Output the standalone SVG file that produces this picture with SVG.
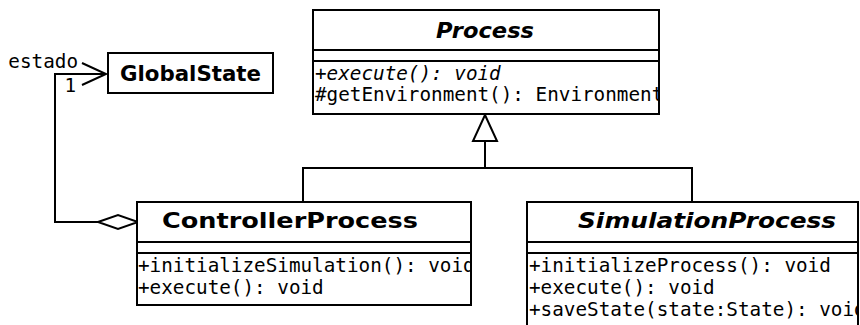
<svg xmlns="http://www.w3.org/2000/svg" width="860" height="325" viewBox="0 0 860 325">
  <style>
    .box { fill: #ffffff; stroke: #000000; stroke-width: 2; }
    .sep { stroke: #000000; stroke-width: 2; fill: none; }
    .wire { stroke: #000000; stroke-width: 2; fill: none; }
    .title { font-family: "DejaVu Sans", Verdana, sans-serif; font-size: 21px; font-weight: bold; fill: #000000; }
    .abstract { font-style: italic; }
    .member { font-family: "DejaVu Sans Mono", "Liberation Mono", monospace; font-size: 19.3px; fill: #000000; }
    .label { font-family: "DejaVu Sans Mono", "Liberation Mono", monospace; font-size: 19.3px; fill: #000000; }
  </style>
  <defs>
    <clipPath id="clip-process">
      <rect x="313" y="61" width="346" height="53"/>
    </clipPath>
    <clipPath id="clip-controller">
      <rect x="137" y="253" width="333" height="52"/>
    </clipPath>
    <clipPath id="clip-simulation">
      <rect x="527" y="253" width="330" height="72"/>
    </clipPath>
  </defs>

  <rect width="860" height="325" fill="#ffffff"/>

  <!-- connectors -->
  <g id="connectors">
    <!-- generalization: ControllerProcess / SimulationProcess -> Process -->
    <polyline class="wire" points="303,202 303,168 692,168 692,202"/>
    <line class="wire" x1="485" y1="168" x2="485" y2="141"/>
    <polygon class="box" points="485,115 473,141 497,141"/>
    <!-- aggregation: ControllerProcess <>- GlobalState -->
    <polyline class="wire" points="98,222 55,222 55,74 106,74"/>
    <polyline class="wire" points="82,63 106,74 82,85"/>
    <polygon class="box" points="98,222 118,215 138,222 118,229"/>
    <text class="label" x="78" y="68" text-anchor="end">estado</text>
    <text class="label" x="76" y="92" text-anchor="end">1</text>
  </g>

  <!-- Process (abstract) -->
  <g id="process">
    <rect class="box" x="313" y="10" width="346" height="104"/>
    <line class="sep" x1="313" y1="50" x2="659" y2="50"/>
    <line class="sep" x1="313" y1="61" x2="659" y2="61"/>
    <text class="title abstract" x="485" y="38" text-anchor="middle" textLength="98" lengthAdjust="spacingAndGlyphs">Process</text>
    <g clip-path="url(#clip-process)">
      <text class="member abstract" x="315" y="80">+execute(): void</text>
      <text class="member" x="315" y="101">#getEnvironment(): Environment</text>
    </g>
  </g>

  <!-- GlobalState -->
  <g id="global-state">
    <rect class="box" x="108" y="53" width="165" height="40"/>
    <text class="title" x="190.5" y="81" text-anchor="middle" textLength="141" lengthAdjust="spacingAndGlyphs">GlobalState</text>
  </g>

  <!-- ControllerProcess -->
  <g id="controller-process">
    <rect class="box" x="137" y="202" width="334" height="103"/>
    <line class="sep" x1="137" y1="242" x2="471" y2="242"/>
    <line class="sep" x1="137" y1="253" x2="471" y2="253"/>
    <text class="title" x="290" y="228" text-anchor="middle" textLength="256" lengthAdjust="spacingAndGlyphs">ControllerProcess</text>
    <g clip-path="url(#clip-controller)">
      <text class="member" x="138" y="272">+initializeSimulation(): void</text>
      <text class="member" x="138" y="294">+execute(): void</text>
    </g>
  </g>

  <!-- SimulationProcess (abstract) -->
  <g id="simulation-process">
    <rect class="box" x="527" y="202" width="331" height="130"/>
    <line class="sep" x1="527" y1="242" x2="858" y2="242"/>
    <line class="sep" x1="527" y1="253" x2="858" y2="253"/>
    <text class="title abstract" x="707" y="228" text-anchor="middle" textLength="258" lengthAdjust="spacingAndGlyphs">SimulationProcess</text>
    <g clip-path="url(#clip-simulation)">
      <text class="member" x="529" y="272">+initializeProcess(): void</text>
      <text class="member" x="529" y="294">+execute(): void</text>
      <text class="member" x="529" y="316">+saveState(state:State): void</text>
    </g>
  </g>
</svg>
